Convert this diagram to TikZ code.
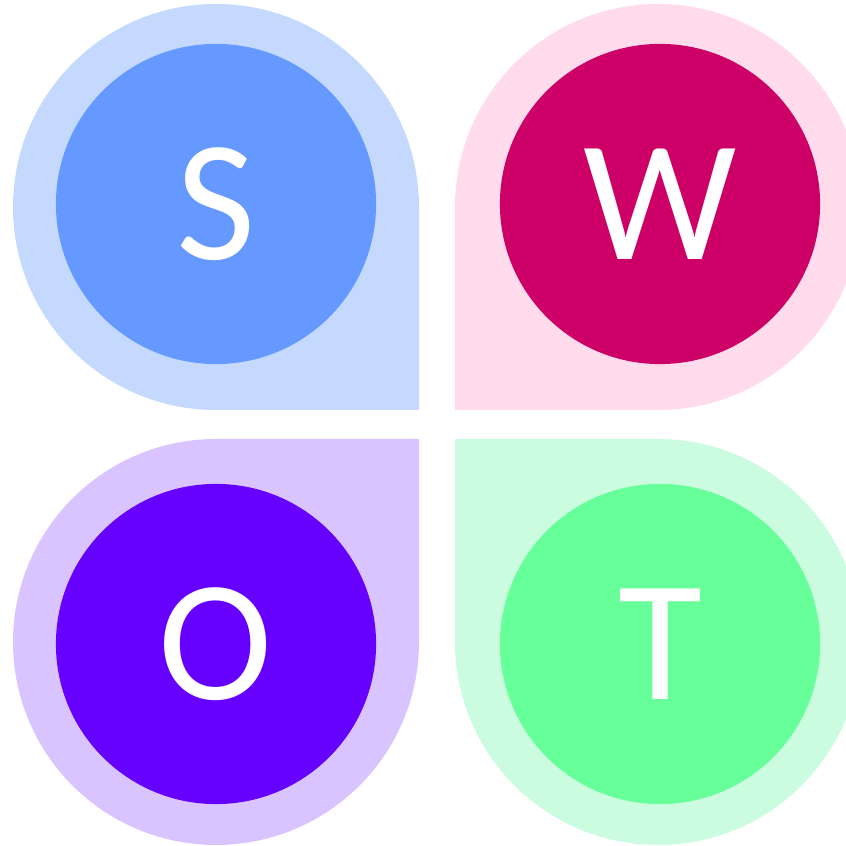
\documentclass[tikz,border=0pt]{standalone}
\usepackage{fontspec}
\setmainfont{Carlito}
\usepackage{tikz}
\usetikzlibrary{positioning}
\definecolor{swotsblue}{HTML}{6699FF}
\definecolor{swotsback}{HTML}{C5D9FF}
\definecolor{swotwred}{HTML}{CC0066}
\definecolor{swotwback}{HTML}{FFDBEB}
\definecolor{swotopurple}{HTML}{6600FF}
\definecolor{swotoback}{HTML}{DAC4FF}
\definecolor{swottgreen}{HTML}{66FF99}
\definecolor{swottback}{HTML}{CCFCE0}

\begin{document}
\begin{tikzpicture}[
    x=0.01cm, y=0.01cm,
    drop_shape/.style={draw=none},
    letter_node/.style={circle, draw=none, minimum size=3.2cm, inner sep=0pt, text=white, font=\fontsize{49}{49}\selectfont}
]
\useasboundingbox (0,0) rectangle (846,846);

% Backgrounds
\fill[drop_shape, swotsback] (216,436) -- (419,436) -- (419,639) arc[start angle=0, end angle=270, radius=203] -- cycle;
\fill[drop_shape, swotwback] (455,639) -- (455,436) -- (658,436) arc[start angle=-90, end angle=180, radius=203] -- cycle;
\fill[drop_shape, swotoback] (419,204) -- (419,407) -- (216,407) arc[start angle=90, end angle=360, radius=203] -- cycle;
\fill[drop_shape, swottback] (658,407) -- (455,407) -- (455,204) arc[start angle=180, end angle=450, radius=203] -- cycle;

% Letters
\node[letter_node, fill=swotsblue] (strength) at (216,642) {S};
\node[letter_node, fill=swotwred] (weakness) at (660,642) {W};
\node[letter_node, fill=swotopurple] (opportunity) at (216,202) {O};
\node[letter_node, fill=swottgreen] (threat) at (660,202) {T};

\end{tikzpicture}
\end{document}
